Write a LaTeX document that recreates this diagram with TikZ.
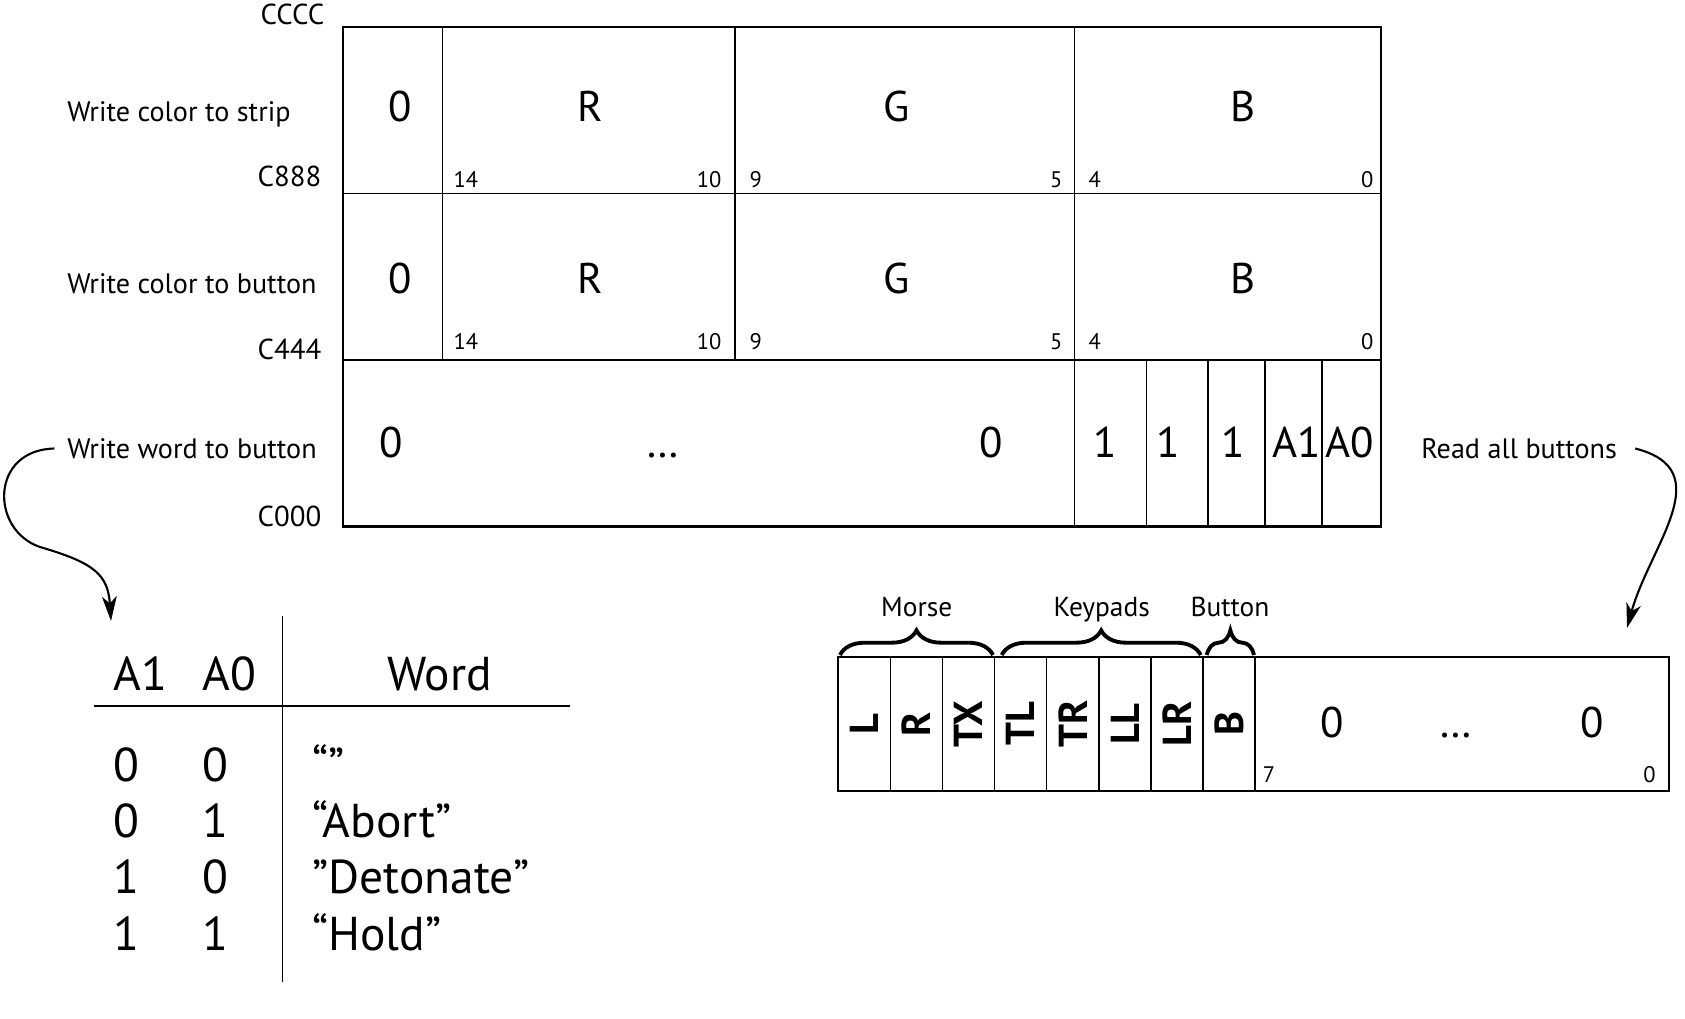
\documentclass[tikz,border=0pt]{standalone}
\usepackage{fontspec}
\setmainfont{PT Sans}
\usetikzlibrary{arrows.meta,decorations.pathreplacing}

\tikzset{
  big/.style={font=\fontsize{12.2}{14}\selectfont,inner sep=0pt},
  lbl/.style={font=\fontsize{8}{10}\selectfont,inner sep=0pt},
  addr/.style={font=\fontsize{8.2}{10}\selectfont,inner sep=0pt},
  bitno/.style={font=\fontsize{6.4}{8}\selectfont,inner sep=0pt},
  grp/.style={font=\fontsize{7.8}{9}\selectfont,inner sep=0pt},
  sig/.style={font=\bfseries\fontsize{11.5}{13}\selectfont,rotate=90,inner sep=0pt},
  tabtext/.style={font=\fontsize{13.5}{16}\selectfont,inner sep=0pt},
  frame/.style={line width=0.6pt},
  cell/.style={line width=0.4pt},
  rule/.style={line width=0.5pt},
  swoop/.style={line width=0.6pt,-{Stealth[length=7pt,width=4.2pt,inset=2pt]}},
  grpbrace/.style={decorate,decoration={brace,amplitude=7pt,aspect=0.5},line width=1.1pt}
}

\begin{document}
\begin{tikzpicture}[x=0.01cm,y=-0.01cm]
  \useasboundingbox (0,0) rectangle (1685,1019);

  \draw[frame] (343,27) rectangle (1381,526.5);
  \draw[cell] (343,193.5) -- (1381,193.5) (343,360) -- (1381,360);
  \foreach \x in {442.7,735} \draw[cell] (\x,27) -- (\x,360);
  \draw[cell] (1074.6,27) -- (1074.6,526.5);
  \foreach \x in {1146.6,1207.9,1264.8,1321.8} \draw[cell] (\x,360) -- (\x,526.5);

  \node[addr,anchor=base east] (cccc) at (325,25) {CCCC};
  \node[addr,anchor=base east] (c888) at (322,186.7) {C888};
  \node[addr,anchor=base east] (c444) at (322,360) {C444};
  \node[addr,anchor=base east] (c000) at (322,526.7) {C000};

  \node[lbl,anchor=base west] (strip) at (66.6,121.7) {Write color to strip};
  \node[lbl,anchor=base west] (btncol) at (66.6,293.3) {Write color to button};
  \node[lbl,anchor=base west] (btnword) at (66.6,458.3) {Write word to button};
  \node[lbl,anchor=base west] (readall) at (1420.6,458.3) {Read all buttons};

  \foreach \x/\t in {400/0,590/R,897/G,1243/B} {
    \node[big,anchor=base] (sa\t) at (\x,121.7) {\t};
    \node[big,anchor=base] (sb\t) at (\x,293.3) {\t};
  }
  \foreach \y/\r in {187.5/a,350/b} {
    \node[bitno,anchor=base west] (\r14) at (453,\y) {14};
    \node[bitno,anchor=base east] (\r10) at (722,\y) {10};
    \node[bitno,anchor=base west] (\r9) at (749,\y) {9};
    \node[bitno,anchor=base east] (\r5) at (1063,\y) {5};
    \node[bitno,anchor=base west] (\r4) at (1088,\y) {4};
    \node[bitno,anchor=base east] (\r0) at (1374,\y) {0};
  }

  \node[big,anchor=base] (whi) at (391,458) {0};
  \node[big,anchor=base] (wdots) at (663,458) {…};
  \node[big,anchor=base] (wlo) at (991,458) {0};
  \foreach \x/\t [count=\i] in {1105/1,1168/1,1233/1,1297/A1,1350/A0}
    \node[big,anchor=base] (w\i) at (\x,458) {\t};

  \draw[frame] (838.3,657) rectangle (1668.9,791);
  \foreach \i in {1,...,8} \draw[cell] ({838.3+52.1*\i},657) -- ++(0,134);
  \foreach \t [count=\i] in {L,R,TX,TL,TR,LL,LR,B}
    \node[sig] (sig\i) at ({838.3+52.1*(\i-0.5)},724) {\t};
  \node[big,anchor=base] (rhi) at (1332.5,738) {0};
  \node[big,anchor=base] (rdots) at (1456,738) {…};
  \node[big,anchor=base] (rlo) at (1592.6,738) {0};
  \node[bitno,anchor=base] (r7) at (1269,782) {7};
  \node[bitno,anchor=base] (r0) at (1649.5,782) {0};

  \draw[grpbrace] (840,655) -- (993,655);
  \draw[grpbrace] (1001.7,655) -- (1200.7,655);
  \draw[grpbrace] (1206.7,655) -- (1254,655);
  \node[grp,anchor=base] (morse) at (916.7,616.7) {Morse};
  \node[grp,anchor=base] (keypads) at (1101.7,616.7) {Keypads};
  \node[grp,anchor=base] (button) at (1230,616.7) {Button};

  \draw[rule] (282.6,616) -- (282.6,981.7);
  \draw[rule] (93.5,706) -- (569.5,706);
  \node[tabtext,anchor=base west] (ha1) at (113,690) {A1};
  \node[tabtext,anchor=base west] (ha0) at (202,690) {A0};
  \node[tabtext,anchor=base] (hword) at (439.5,690) {Word};
  \foreach \y/\a/\b/\w [count=\i] in {781.7/0/0/{“”},837.7/0/1/{“Abort”},893.3/1/0/{”Detonate”},950/1/1/{“Hold”}} {
    \node[tabtext,anchor=base west] (ta\i) at (113,\y) {\a};
    \node[tabtext,anchor=base west] (tb\i) at (202,\y) {\b};
    \node[tabtext,anchor=base west] (tw\i) at (311.6,\y) {\w};
  }

  \coordinate (wwtip) at (111,621);
  \coordinate (ratip) at (1627,628);
  \draw[swoop] ([xshift=-3.5pt]btnword.west) .. controls (-10,450) and (-10,530) .. (40,547)
    .. controls (95,563) and (108,575) .. (wwtip);
  \draw[swoop] ([xshift=5pt]readall.east) .. controls (1720,470) and (1650,545) .. (ratip);
\end{tikzpicture}
\end{document}
